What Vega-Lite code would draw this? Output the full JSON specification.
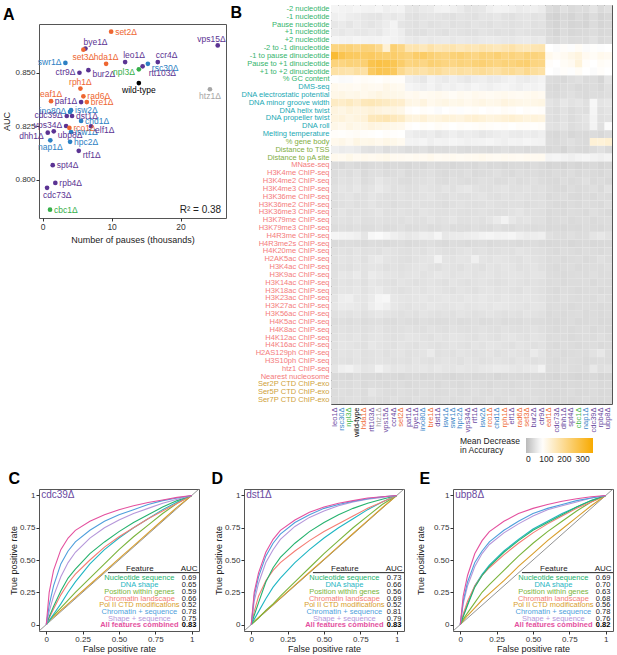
{
"$schema": "https://vega.github.io/schema/vega-lite/v6.json",
"background": "white",
"padding": {"left": 2, "top": 3, "right": 2, "bottom": 0},
"config": {
  "font": "Liberation Sans",
  "view": {"stroke": "#555", "strokeWidth": 1},
  "axis": {"grid": false, "domain": false, "tickColor": "#333", "tickSize": 3, "labelColor": "#333", "labelFontSize": 8.5, "titleFontSize": 9, "titleFontWeight": "normal", "titleColor": "#222", "labelPadding": 1, "titlePadding": 3, "labelOverlap": false, "labelSeparation": 0},
  "axisQuantitative": {"labelOverlap": false},
  "title": {"fontSize": 16, "fontWeight": "bold", "anchor": "start", "frame": "bounds", "color": "#000"}
},
"datasets": {
  "pauses": [
    {"s":"set2Δ","n":9.93,"auc":0.8693,"g":"o"},
    {"s":"bye1Δ","n":6.2,"auc":0.8614,"g":"p"},
    {"s":"set3Δ","n":5.9,"auc":0.8609,"g":"o"},
    {"s":"hda1Δ","n":9.2,"auc":0.8543,"g":"o"},
    {"s":"leo1Δ","n":11.96,"auc":0.8551,"g":"p"},
    {"s":"ccr4Δ","n":16.7,"auc":0.8551,"g":"p"},
    {"s":"rsc30Δ","n":15.26,"auc":0.8543,"g":"b"},
    {"s":"rtt103Δ","n":14.5,"auc":0.8531,"g":"p"},
    {"s":"npl3Δ","n":13.95,"auc":0.8517,"g":"g"},
    {"s":"wild-type","n":13.95,"auc":0.8453,"g":"k"},
    {"s":"vps15Δ","n":25.4,"auc":0.8629,"g":"p"},
    {"s":"htz1Δ","n":24.27,"auc":0.8424,"g":"x"},
    {"s":"swr1Δ","n":3.29,"auc":0.8547,"g":"b"},
    {"s":"ctr9Δ","n":5.33,"auc":0.8501,"g":"p"},
    {"s":"bur2Δ","n":6.63,"auc":0.8513,"g":"p"},
    {"s":"rph1Δ","n":5.47,"auc":0.8427,"g":"o"},
    {"s":"rad6Δ","n":5.9,"auc":0.8391,"g":"o"},
    {"s":"eaf1Δ","n":1.21,"auc":0.8368,"g":"o"},
    {"s":"paf1Δ","n":5.57,"auc":0.8364,"g":"p"},
    {"s":"bre1Δ","n":6.4,"auc":0.8364,"g":"o"},
    {"s":"isw2Δ","n":4.11,"auc":0.8326,"g":"b"},
    {"s":"ino80Δ","n":3.97,"auc":0.8318,"g":"b"},
    {"s":"dst1Δ","n":4.26,"auc":0.8299,"g":"p"},
    {"s":"cdc39Δ","n":3.49,"auc":0.8299,"g":"p"},
    {"s":"chd1Δ","n":5.57,"auc":0.8276,"g":"b"},
    {"s":"vps34Δ","n":3.39,"auc":0.8252,"g":"p"},
    {"s":"rco1Δ","n":3.87,"auc":0.8243,"g":"o"},
    {"s":"elf1Δ","n":7.02,"auc":0.8251,"g":"p"},
    {"s":"dhh1Δ","n":0.73,"auc":0.8221,"g":"p"},
    {"s":"ubp8Δ","n":1.6,"auc":0.8227,"g":"p"},
    {"s":"isw1Δ","n":4.11,"auc":0.8224,"g":"b"},
    {"s":"nap1Δ","n":1.1,"auc":0.8185,"g":"b"},
    {"s":"hpc2Δ","n":3.97,"auc":0.8178,"g":"b"},
    {"s":"rtf1Δ","n":5.23,"auc":0.8136,"g":"p"},
    {"s":"spt4Δ","n":1.45,"auc":0.8069,"g":"p"},
    {"s":"rpb4Δ","n":1.83,"auc":0.7986,"g":"p"},
    {"s":"cdc73Δ","n":0.63,"auc":0.7963,"g":"p"},
    {"s":"cbc1Δ","n":1.06,"auc":0.7861,"g":"g"}
  ],
  "strains": [{"i":1,"s":"leo1"},{"i":2,"s":"rsc30"},{"i":3,"s":"npl3"},{"i":4,"s":"wild-type"},{"i":5,"s":"hda1"},{"i":6,"s":"rtt103"},{"i":7,"s":"htz1"},{"i":8,"s":"vps15"},{"i":9,"s":"ccr4"},{"i":10,"s":"set2"},{"i":11,"s":"paf1"},{"i":12,"s":"bye1"},{"i":13,"s":"ino80"},{"i":14,"s":"bre1"},{"i":15,"s":"dst1"},{"i":16,"s":"isw1"},{"i":17,"s":"swr1"},{"i":18,"s":"hpc2"},{"i":19,"s":"vps34"},{"i":20,"s":"rtf1"},{"i":21,"s":"isw2"},{"i":22,"s":"rco1"},{"i":23,"s":"chd1"},{"i":24,"s":"rph1"},{"i":25,"s":"elf1"},{"i":26,"s":"rad6"},{"i":27,"s":"set3"},{"i":28,"s":"bur2"},{"i":29,"s":"ctr9"},{"i":30,"s":"eaf1"},{"i":31,"s":"cdc73"},{"i":32,"s":"dhh1"},{"i":33,"s":"spt4"},{"i":34,"s":"cbc1"},{"i":35,"s":"nap1"},{"i":36,"s":"cdc39"},{"i":37,"s":"rpb4"},{"i":38,"s":"ubp8"}],
  "heat": [
    {"f":"-2 nucleotide","v":[62,60,58,62,60,58,62,55,58,60,45,42,48,50,58,60,55,50,40,42,45,55,60,58,55,50,52,55,50,30,25,35,28,32,30,40,28,35]},
    {"f":"-1 nucleotide","v":[55,58,52,50,45,42,40,48,45,50,38,35,40,42,40,38,35,40,38,36,42,40,45,38,36,40,42,38,40,22,18,25,20,28,22,30,20,25]},
    {"f":"Pause nucleotide","v":[45,48,42,50,44,40,46,52,60,42,38,36,40,35,38,40,36,38,35,40,38,36,40,38,35,38,40,36,38,25,20,28,22,24,20,30,22,26]},
    {"f":"+1 nucleotide","v":[48,45,50,46,44,48,45,55,58,52,38,36,35,40,38,36,40,38,36,35,40,38,36,38,35,40,38,36,35,28,22,30,24,26,28,32,25,28]},
    {"f":"+2 nucleotide","v":[62,60,58,62,60,58,60,62,58,55,48,45,50,46,48,50,45,48,46,44,48,50,48,46,45,48,50,46,48,32,28,35,30,32,30,38,28,32]},
    {"f":"-2 to -1 dinucleotide","v":[215,220,225,210,225,220,200,120,230,210,160,165,150,170,155,160,165,150,160,155,165,158,150,160,170,155,150,160,165,75,70,80,72,85,70,78,72,75]},
    {"f":"-1 to pause dinucleotide","v":[300,270,255,250,245,250,240,235,240,230,220,240,245,230,220,215,225,230,220,210,225,220,230,215,220,210,225,220,215,95,85,90,100,110,90,85,95,90]},
    {"f":"Pause to +1 dinucleotide","v":[220,215,225,220,230,270,280,275,265,240,215,220,210,230,225,215,210,220,215,225,230,220,215,225,220,230,235,215,210,80,75,85,90,115,80,75,85,80]},
    {"f":"+1 to +2 dinucleotide","v":[175,170,165,180,175,250,270,265,255,200,175,180,170,185,190,175,170,180,175,185,190,180,175,190,195,180,200,185,175,75,70,80,72,85,75,70,80,75]},
    {"f":"% GC content","v":[72,68,70,80,85,82,78,85,82,80,55,50,45,58,52,48,55,50,45,52,55,48,50,55,58,52,50,55,60,30,28,25,32,35,28,30,22,40]},
    {"f":"DMS-seq","v":[95,90,92,88,95,92,90,100,95,92,62,58,55,60,52,58,55,60,56,62,58,55,60,62,58,55,60,58,62,28,25,30,32,26,28,30,25,35]},
    {"f":"DNA electrostatic potential","v":[100,105,98,102,95,100,108,102,100,98,90,95,88,92,95,90,85,92,88,95,90,88,92,95,90,88,92,95,90,30,28,32,35,30,28,32,30,34]},
    {"f":"DNA minor groove width","v":[140,135,145,130,150,155,148,140,135,130,105,100,110,95,100,105,98,102,95,100,105,98,100,110,105,100,98,102,105,40,35,45,38,42,35,65,40,45]},
    {"f":"DNA helix twist","v":[110,105,115,108,112,118,110,105,108,100,80,75,82,78,70,75,80,72,78,82,75,80,78,85,80,75,82,78,80,35,32,38,30,36,33,62,35,40]},
    {"f":"DNA propeller twist","v":[110,115,105,112,118,150,155,160,150,140,115,110,120,108,112,118,115,110,120,125,118,112,115,120,125,118,112,115,110,35,32,38,30,36,40,60,35,38]},
    {"f":"DNA roll","v":[100,95,105,98,102,110,105,100,98,95,80,75,82,78,85,80,76,82,78,80,85,82,78,80,76,82,80,78,82,38,35,40,32,36,38,60,35,70]},
    {"f":"Melting temperature","v":[80,78,82,85,80,78,75,80,78,76,55,50,48,52,45,50,55,48,52,50,45,48,52,55,50,48,52,50,55,28,25,30,24,28,26,30,25,32]},
    {"f":"% gene body","v":[95,100,92,105,98,100,95,102,98,92,60,58,62,55,60,58,62,60,56,58,60,62,58,55,60,58,62,60,58,30,28,32,35,30,28,120,118,125]},
    {"f":"Distance to TSS","v":[55,50,52,48,38,35,40,32,38,35,30,32,35,28,32,30,34,30,28,32,30,28,32,35,30,32,28,30,32,25,28,22,30,26,25,30,35,28]},
    {"f":"Distance to pA site","v":[95,92,98,90,95,92,95,98,92,90,88,92,90,95,88,90,92,88,90,92,95,90,88,92,90,88,92,90,92,60,62,58,55,60,62,58,55,60]},
    {"f":"MNase-seq","v":[28,25,30,26,24,28,30,25,28,26,24,28,25,30,26,28,24,26,28,25,30,26,28,24,26,28,25,30,26,22,24,20,25,22,24,26,22,25]},
    {"f":"H3K4me ChIP-seq","v":[30,35,32,38,28,34,36,30,32,35,28,30,33,36,30,28,32,30,34,28,30,32,35,30,28,33,30,32,28,26,30,28,32,26,30,28,25,30]},
    {"f":"H3K4me2 ChIP-seq","v":[32,38,35,40,30,36,45,38,35,32,30,34,36,38,32,30,35,33,30,32,36,34,30,32,35,30,33,36,30,28,26,32,28,30,35,28,30,26]},
    {"f":"H3K4me3 ChIP-seq","v":[36,42,38,45,35,40,48,42,36,38,34,36,40,38,35,40,36,42,45,38,36,34,38,40,36,35,38,34,36,30,28,26,32,28,30,34,28,38]},
    {"f":"H3K36me ChIP-seq","v":[34,38,40,36,35,42,38,36,34,38,36,35,38,40,36,34,38,36,35,38,40,36,34,38,36,38,35,34,36,28,30,32,28,26,30,28,32,30]},
    {"f":"H3K36me2 ChIP-seq","v":[32,36,38,34,35,40,36,35,32,36,34,38,35,36,34,32,36,38,35,34,36,38,35,34,36,35,32,34,36,30,28,26,30,28,32,30,28,34]},
    {"f":"H3K36me3 ChIP-seq","v":[34,40,36,38,35,38,42,36,35,38,36,34,40,38,36,35,38,36,34,36,38,35,34,36,38,42,36,35,34,28,30,28,32,30,28,34,30,28]},
    {"f":"H3K79me ChIP-seq","v":[35,38,36,40,34,36,38,35,36,34,38,36,35,40,36,38,42,35,36,38,36,40,48,58,45,38,40,36,35,28,30,32,28,30,32,28,30,32]},
    {"f":"H3K79me3 ChIP-seq","v":[30,34,32,35,30,32,36,30,32,35,30,32,34,30,32,35,30,32,30,34,32,30,35,32,30,34,32,30,32,26,28,25,28,26,30,28,26,30]},
    {"f":"H4R3me ChIP-seq","v":[62,60,58,55,42,65,68,62,55,50,45,48,55,52,62,45,48,50,52,55,60,62,58,60,62,55,50,52,55,35,32,30,34,30,32,40,45,38]},
    {"f":"H4R3me2s ChIP-seq","v":[28,30,32,30,28,32,30,28,30,32,28,30,32,34,30,28,32,30,28,30,32,28,30,32,30,28,30,32,28,25,26,28,24,26,28,25,26,28]},
    {"f":"H4K20me ChIP-seq","v":[34,38,36,40,35,38,36,40,38,36,34,38,36,40,38,36,34,38,40,36,38,34,36,38,36,40,38,36,34,30,28,32,30,28,32,30,28,32]},
    {"f":"H2AK5ac ChIP-seq","v":[36,40,38,42,36,44,48,40,38,36,34,38,40,42,58,40,38,42,40,55,40,38,42,40,38,36,40,38,36,30,32,28,30,32,28,30,35,32]},
    {"f":"H3K4ac ChIP-seq","v":[34,38,36,40,38,42,40,36,38,36,38,40,42,38,36,40,38,36,40,38,36,40,38,42,40,36,38,40,36,30,28,30,32,28,30,32,30,34]},
    {"f":"H3K9ac ChIP-seq","v":[36,45,42,48,38,50,46,42,40,38,40,42,38,40,44,42,38,40,42,38,40,42,38,40,42,40,38,42,40,32,30,28,30,32,30,34,30,32]},
    {"f":"H3K14ac ChIP-seq","v":[34,40,38,42,36,44,40,38,36,40,38,36,38,40,38,36,40,38,36,38,40,38,36,38,40,38,36,38,36,30,32,28,30,30,32,28,32,30]},
    {"f":"H3K18ac ChIP-seq","v":[36,42,40,44,38,45,48,40,38,36,38,40,38,42,40,38,36,40,38,36,40,42,38,40,38,36,40,38,36,30,28,32,30,28,30,32,28,30]},
    {"f":"H3K23ac ChIP-seq","v":[40,52,55,45,42,50,62,65,45,42,40,42,44,40,42,44,42,40,44,42,46,42,40,44,42,40,42,40,38,32,30,34,32,30,32,30,34,32]},
    {"f":"H3K27ac ChIP-seq","v":[42,50,48,46,40,52,60,55,44,40,38,42,40,44,42,40,42,44,40,42,44,42,46,44,42,40,38,42,40,30,32,30,28,30,32,30,28,30]},
    {"f":"H3K56ac ChIP-seq","v":[36,40,38,42,36,40,44,40,38,36,38,36,40,38,36,38,36,40,38,36,38,40,38,36,38,36,40,38,36,28,30,28,30,32,28,30,28,30]},
    {"f":"H4K5ac ChIP-seq","v":[30,34,32,36,30,34,36,32,30,34,32,30,34,32,30,32,34,30,32,34,30,32,34,30,32,30,34,32,30,28,26,28,30,26,28,30,26,28]},
    {"f":"H4K8ac ChIP-seq","v":[34,38,36,38,34,38,40,36,34,36,38,36,34,38,36,34,38,36,34,36,38,36,34,38,36,34,36,38,34,30,28,30,28,30,32,28,30,28]},
    {"f":"H4K12ac ChIP-seq","v":[36,40,38,42,36,40,42,38,36,38,42,40,38,36,40,38,42,40,38,36,40,38,36,40,42,38,36,40,38,30,32,30,28,30,32,30,34,30]},
    {"f":"H4K16ac ChIP-seq","v":[36,42,40,38,36,44,40,38,36,40,38,36,40,38,36,38,40,38,36,40,38,42,40,38,36,40,38,36,38,30,28,32,30,28,30,32,28,30]},
    {"f":"H2AS129ph ChIP-seq","v":[34,40,38,42,36,38,40,36,38,40,36,38,40,48,36,38,36,40,38,36,38,40,36,38,40,38,36,48,40,30,32,28,30,32,30,38,44,32]},
    {"f":"H3S10ph ChIP-seq","v":[34,38,36,40,36,38,40,38,36,38,36,40,38,36,38,40,38,36,40,38,36,38,40,38,36,40,38,36,38,30,28,30,32,30,28,30,32,30]},
    {"f":"htz1 ChIP-seq","v":[40,55,58,50,42,45,58,48,42,44,40,42,44,40,46,42,40,44,42,40,44,46,50,48,44,42,46,48,58,32,30,34,32,30,32,46,34,38]},
    {"f":"Nearest nucleosome","v":[26,28,25,30,26,28,25,28,26,24,26,28,25,26,28,26,24,26,28,25,26,28,24,26,28,26,25,28,26,24,22,25,24,22,24,26,22,24]},
    {"f":"Ser2P CTD ChIP-exo","v":[28,32,30,34,28,32,30,28,30,32,28,30,32,30,28,32,30,28,30,32,30,28,32,30,28,30,32,30,28,26,28,25,28,26,28,30,26,28]},
    {"f":"Ser5P CTD ChIP-exo","v":[30,34,32,36,30,42,36,32,30,34,32,30,34,32,30,32,34,30,32,34,32,30,34,32,30,32,34,32,30,28,26,28,30,26,28,30,26,28]},
    {"f":"Ser7P CTD ChIP-exo","v":[30,32,34,36,30,34,32,30,34,32,30,34,32,30,32,34,30,32,34,30,32,34,30,32,34,30,32,34,30,28,26,28,26,28,30,28,26,28]}
  ],
  "roc": [
    {"p":"C","x":0,"all":0,"cs":0,"ss":0,"nuc":0,"chr":0,"shp":0,"pos":0,"ctd":0},
    {"p":"C","x":0.02,"all":0.25,"cs":0.15,"ss":0.10,"nuc":0.06,"chr":0.05,"shp":0.03,"pos":0.03,"ctd":0.03},
    {"p":"C","x":0.05,"all":0.42,"cs":0.30,"ss":0.22,"nuc":0.14,"chr":0.12,"shp":0.08,"pos":0.07,"ctd":0.06},
    {"p":"C","x":0.10,"all":0.58,"cs":0.47,"ss":0.37,"nuc":0.26,"chr":0.23,"shp":0.16,"pos":0.13,"ctd":0.11},
    {"p":"C","x":0.15,"all":0.67,"cs":0.57,"ss":0.48,"nuc":0.36,"chr":0.32,"shp":0.25,"pos":0.19,"ctd":0.16},
    {"p":"C","x":0.20,"all":0.73,"cs":0.64,"ss":0.56,"nuc":0.43,"chr":0.39,"shp":0.33,"pos":0.25,"ctd":0.21},
    {"p":"C","x":0.30,"all":0.80,"cs":0.73,"ss":0.67,"nuc":0.55,"chr":0.50,"shp":0.47,"pos":0.36,"ctd":0.31},
    {"p":"C","x":0.40,"all":0.85,"cs":0.80,"ss":0.75,"nuc":0.64,"chr":0.60,"shp":0.58,"pos":0.47,"ctd":0.41},
    {"p":"C","x":0.50,"all":0.89,"cs":0.85,"ss":0.81,"nuc":0.72,"chr":0.68,"shp":0.67,"pos":0.58,"ctd":0.51},
    {"p":"C","x":0.60,"all":0.92,"cs":0.89,"ss":0.86,"nuc":0.79,"chr":0.75,"shp":0.75,"pos":0.68,"ctd":0.61},
    {"p":"C","x":0.70,"all":0.945,"cs":0.93,"ss":0.90,"nuc":0.85,"chr":0.82,"shp":0.82,"pos":0.77,"ctd":0.71},
    {"p":"C","x":0.80,"all":0.965,"cs":0.96,"ss":0.94,"nuc":0.91,"chr":0.88,"shp":0.89,"pos":0.86,"ctd":0.81},
    {"p":"C","x":0.90,"all":0.985,"cs":0.98,"ss":0.97,"nuc":0.96,"chr":0.94,"shp":0.95,"pos":0.94,"ctd":0.91},
    {"p":"C","x":1,"all":1,"cs":1,"ss":1,"nuc":1,"chr":1,"shp":1,"pos":1,"ctd":1},
    {"p":"D","x":0,"all":0,"cs":0,"ss":0,"nuc":0,"chr":0,"shp":0,"pos":0,"ctd":0},
    {"p":"D","x":0.02,"all":0.25,"cs":0.22,"ss":0.18,"nuc":0.07,"chr":0.10,"shp":0.04,"pos":0.02,"ctd":0.025},
    {"p":"D","x":0.05,"all":0.40,"cs":0.37,"ss":0.32,"nuc":0.17,"chr":0.22,"shp":0.10,"pos":0.05,"ctd":0.055},
    {"p":"D","x":0.10,"all":0.56,"cs":0.53,"ss":0.48,"nuc":0.33,"chr":0.34,"shp":0.20,"pos":0.11,"ctd":0.105},
    {"p":"D","x":0.15,"all":0.66,"cs":0.63,"ss":0.58,"nuc":0.44,"chr":0.42,"shp":0.29,"pos":0.16,"ctd":0.155},
    {"p":"D","x":0.20,"all":0.73,"cs":0.70,"ss":0.66,"nuc":0.52,"chr":0.48,"shp":0.36,"pos":0.22,"ctd":0.205},
    {"p":"D","x":0.30,"all":0.81,"cs":0.79,"ss":0.76,"nuc":0.63,"chr":0.57,"shp":0.48,"pos":0.33,"ctd":0.305},
    {"p":"D","x":0.40,"all":0.87,"cs":0.85,"ss":0.83,"nuc":0.72,"chr":0.65,"shp":0.58,"pos":0.44,"ctd":0.405},
    {"p":"D","x":0.50,"all":0.91,"cs":0.90,"ss":0.88,"nuc":0.79,"chr":0.72,"shp":0.67,"pos":0.55,"ctd":0.505},
    {"p":"D","x":0.60,"all":0.94,"cs":0.93,"ss":0.92,"nuc":0.85,"chr":0.78,"shp":0.75,"pos":0.65,"ctd":0.605},
    {"p":"D","x":0.70,"all":0.96,"cs":0.955,"ss":0.95,"nuc":0.90,"chr":0.84,"shp":0.82,"pos":0.75,"ctd":0.705},
    {"p":"D","x":0.80,"all":0.98,"cs":0.975,"ss":0.97,"nuc":0.94,"chr":0.90,"shp":0.89,"pos":0.84,"ctd":0.805},
    {"p":"D","x":0.90,"all":0.99,"cs":0.99,"ss":0.985,"nuc":0.97,"chr":0.95,"shp":0.95,"pos":0.93,"ctd":0.905},
    {"p":"D","x":1,"all":1,"cs":1,"ss":1,"nuc":1,"chr":1,"shp":1,"pos":1,"ctd":1},
    {"p":"E","x":0,"all":0,"cs":0,"ss":0,"nuc":0,"chr":0,"shp":0,"pos":0,"ctd":0},
    {"p":"E","x":0.02,"all":0.22,"cs":0.18,"ss":0.16,"nuc":0.06,"chr":0.08,"shp":0.07,"pos":0.04,"ctd":0.03},
    {"p":"E","x":0.05,"all":0.38,"cs":0.33,"ss":0.30,"nuc":0.15,"chr":0.18,"shp":0.16,"pos":0.09,"ctd":0.07},
    {"p":"E","x":0.10,"all":0.55,"cs":0.48,"ss":0.45,"nuc":0.29,"chr":0.30,"shp":0.30,"pos":0.17,"ctd":0.13},
    {"p":"E","x":0.15,"all":0.65,"cs":0.57,"ss":0.55,"nuc":0.38,"chr":0.38,"shp":0.39,"pos":0.25,"ctd":0.19},
    {"p":"E","x":0.20,"all":0.72,"cs":0.64,"ss":0.62,"nuc":0.45,"chr":0.44,"shp":0.46,"pos":0.31,"ctd":0.24},
    {"p":"E","x":0.30,"all":0.80,"cs":0.73,"ss":0.71,"nuc":0.56,"chr":0.54,"shp":0.57,"pos":0.42,"ctd":0.34},
    {"p":"E","x":0.40,"all":0.86,"cs":0.80,"ss":0.78,"nuc":0.65,"chr":0.63,"shp":0.66,"pos":0.53,"ctd":0.45},
    {"p":"E","x":0.50,"all":0.90,"cs":0.86,"ss":0.84,"nuc":0.73,"chr":0.71,"shp":0.74,"pos":0.63,"ctd":0.55},
    {"p":"E","x":0.60,"all":0.93,"cs":0.90,"ss":0.89,"nuc":0.79,"chr":0.78,"shp":0.80,"pos":0.72,"ctd":0.65},
    {"p":"E","x":0.70,"all":0.955,"cs":0.93,"ss":0.92,"nuc":0.85,"chr":0.84,"shp":0.86,"pos":0.80,"ctd":0.74},
    {"p":"E","x":0.80,"all":0.975,"cs":0.96,"ss":0.95,"nuc":0.91,"chr":0.90,"shp":0.91,"pos":0.88,"ctd":0.83},
    {"p":"E","x":0.90,"all":0.99,"cs":0.98,"ss":0.98,"nuc":0.96,"chr":0.95,"shp":0.96,"pos":0.95,"ctd":0.92},
    {"p":"E","x":1,"all":1,"cs":1,"ss":1,"nuc":1,"chr":1,"shp":1,"pos":1,"ctd":1}
  ],
  "tab": [
    {"p":"C","f":"nuc","n":"Nucleotide sequence","a":"0.69"},
    {"p":"C","f":"shp","n":"DNA shape","a":"0.65"},
    {"p":"C","f":"pos","n":"Position within genes","a":"0.59"},
    {"p":"C","f":"chr","n":"Chromatin landscape","a":"0.66"},
    {"p":"C","f":"ctd","n":"Pol II CTD modifications","a":"0.52"},
    {"p":"C","f":"cs","n":"Chromatin + sequence","a":"0.78"},
    {"p":"C","f":"ss","n":"Shape + sequence","a":"0.75"},
    {"p":"C","f":"all","n":"All features combined","a":"0.83"},
    {"p":"D","f":"nuc","n":"Nucleotide sequence","a":"0.73"},
    {"p":"D","f":"shp","n":"DNA shape","a":"0.66"},
    {"p":"D","f":"pos","n":"Position within genes","a":"0.56"},
    {"p":"D","f":"chr","n":"Chromatin landscape","a":"0.69"},
    {"p":"D","f":"ctd","n":"Pol II CTD modifications","a":"0.52"},
    {"p":"D","f":"cs","n":"Chromatin + sequence","a":"0.81"},
    {"p":"D","f":"ss","n":"Shape + sequence","a":"0.79"},
    {"p":"D","f":"all","n":"All features combined","a":"0.83"},
    {"p":"E","f":"nuc","n":"Nucleotide sequence","a":"0.69"},
    {"p":"E","f":"shp","n":"DNA shape","a":"0.70"},
    {"p":"E","f":"pos","n":"Position within genes","a":"0.63"},
    {"p":"E","f":"chr","n":"Chromatin landscape","a":"0.68"},
    {"p":"E","f":"ctd","n":"Pol II CTD modifications","a":"0.56"},
    {"p":"E","f":"cs","n":"Chromatin + sequence","a":"0.78"},
    {"p":"E","f":"ss","n":"Shape + sequence","a":"0.76"},
    {"p":"E","f":"all","n":"All features combined","a":"0.82"}
  ]
},
"spacing": 5,
"vconcat": [
 {"hconcat": [
  {"vconcat": [
  {"width": 187, "height": 1, "view": {"stroke": null}, "mark": {"type": "rule", "strokeOpacity": 0, "opacity": 0}, "encoding": {}},
  {
   "title": {"text": "A", "offset": 1, "dx": 0},
   "width": 187, "height": 194,
   "data": {"name": "pauses"},
   "layer": [
    {
     "encoding": {
       "x": {"field": "n", "type": "quantitative", "scale": {"domain": [-0.54, 26.6], "nice": false, "zero": false}, "axis": {"values": [0, 10, 20], "title": "Number of pauses (thousands)", "titlePadding": 5}},
       "y": {"field": "auc", "type": "quantitative", "scale": {"domain": [0.7822, 0.8729], "nice": false, "zero": false}, "axis": {"values": [0.8, 0.825, 0.85], "format": ".3f", "title": "AUC", "titlePadding": 3, "labelFontSize": 8}},
       "color": {"field": "g", "type": "nominal", "scale": {"domain": ["p","o","b","g","k","x"], "range": ["#5b3393","#ee6631","#2c80c3","#36b04a","#000000","#a6a6a6"]}, "legend": null}
     },
     "layer": [
       {"mark": {"type": "circle", "size": 22, "opacity": 1}},
       {"transform": [{"filter": {"field": "s", "oneOf": ["set2Δ","rad6Δ","bre1Δ","isw2Δ","dst1Δ","chd1Δ","rco1Δ","isw1Δ","hpc2Δ","spt4Δ","rpb4Δ","cbc1Δ"]}}],
        "mark": {"type": "text", "align": "left", "dx": 4, "dy": 0, "fontSize": 8.5}, "encoding": {"text": {"field": "s"}}},
       {"transform": [{"filter": {"field": "s", "oneOf": ["bur2Δ","ubp8Δ","rsc30Δ","elf1Δ","rtf1Δ"]}}],
        "mark": {"type": "text", "align": "left", "dx": 4, "dy": 4, "fontSize": 8.5}, "encoding": {"text": {"field": "s"}}},
       {"transform": [{"filter": {"field": "s", "oneOf": ["rtt103Δ"]}}],
        "mark": {"type": "text", "align": "left", "dx": 6, "dy": 7, "fontSize": 8.5}, "encoding": {"text": {"field": "s"}}},
       {"transform": [{"filter": {"field": "s", "oneOf": ["swr1Δ","ctr9Δ","paf1Δ","ino80Δ","cdc39Δ","vps34Δ"]}}],
        "mark": {"type": "text", "align": "right", "dx": -4, "dy": -1, "fontSize": 8.5}, "encoding": {"text": {"field": "s"}}},
       {"transform": [{"filter": {"field": "s", "oneOf": ["npl3Δ","dhh1Δ"]}}],
        "mark": {"type": "text", "align": "right", "dx": -4, "dy": 3, "fontSize": 8.5}, "encoding": {"text": {"field": "s"}}},
       {"transform": [{"filter": {"field": "s", "oneOf": ["hda1Δ","rph1Δ","eaf1Δ"]}}],
        "mark": {"type": "text", "align": "center", "dy": -7, "fontSize": 8.5}, "encoding": {"text": {"field": "s"}}},
       {"transform": [{"filter": {"field": "s", "oneOf": ["bye1Δ","leo1Δ","ccr4Δ"]}}],
        "mark": {"type": "text", "align": "left", "dx": -2, "dy": -7, "fontSize": 8.5}, "encoding": {"text": {"field": "s"}}},
       {"transform": [{"filter": {"field": "s", "oneOf": ["vps15Δ"]}}],
        "mark": {"type": "text", "align": "right", "dx": 8, "dy": -6, "fontSize": 8.5}, "encoding": {"text": {"field": "s"}}},
       {"transform": [{"filter": {"field": "s", "oneOf": ["set3Δ","wild-type","htz1Δ","nap1Δ"]}}],
        "mark": {"type": "text", "align": "center", "dy": 7, "fontSize": 8.5}, "encoding": {"text": {"field": "s"}}},
       {"transform": [{"filter": {"field": "s", "oneOf": ["cdc73Δ"]}}],
        "mark": {"type": "text", "align": "left", "dx": -4, "dy": 7, "fontSize": 8.5}, "encoding": {"text": {"field": "s"}}}
     ]
    },
    {"data": {"values": [{"t": "R² = 0.38"}]}, "mark": {"type": "text", "align": "right", "fontSize": 10, "color": "#222222"},
     "encoding": {"x": {"datum": 25.9, "type": "quantitative"}, "y": {"datum": 0.786, "type": "quantitative"}, "text": {"field": "t", "type": "nominal"}}}
   ]
  }], "spacing": 0},
  {
   "width": 281, "height": 399,
   "data": {"name": "heat"},
   "transform": [
     {"window": [{"op": "row_number", "as": "ri"}]},
     {"flatten": ["v"]},
     {"window": [{"op": "row_number", "as": "ci"}], "groupby": ["ri"]},
     {"lookup": "ci", "from": {"data": {"name": "strains"}, "key": "i", "fields": ["s"]}}
   ],
   "mark": {"type": "rect"},
   "encoding": {
     "x": {"field": "s", "type": "nominal", "sort": {"field": "ci", "op": "min"}, "scale": {"padding": 0},
       "axis": {"title": null, "orient": "bottom", "labelAngle": -90, "labelFontSize": 7.5, "ticks": false, "labelPadding": 3,
         "labelExpr": "datum.value == 'wild-type' ? datum.value : datum.value + 'Δ'",
         "labelColor": {"condition": [
           {"test": "indexof(['hda1','set2','bre1','rco1','rph1','rad6','set3','eaf1'], datum.value) >= 0", "value": "#ef6a35"},
           {"test": "indexof(['rsc30','ino80','isw1','swr1','hpc2','isw2','chd1','nap1'], datum.value) >= 0", "value": "#3a86c8"},
           {"test": "indexof(['npl3','cbc1'], datum.value) >= 0", "value": "#3db54a"},
           {"test": "datum.value == 'htz1'", "value": "#a8a8a8"},
           {"test": "datum.value == 'wild-type'", "value": "#000000"}
         ], "value": "#6b4a9f"}}},
     "y": {"field": "f", "type": "nominal", "sort": {"field": "ri", "op": "min"}, "scale": {"padding": 0},
       "axis": {"ticks": false, "labelFontSize": 7.5, "labelPadding": 2,
         "title": "B", "titleX": -101, "titleY": -1, "titleAngle": 0, "titleAlign": "left", "titleBaseline": "top",
         "titleFontSize": 16, "titleFontWeight": "bold", "titleColor": "#000",
         "labelColor": {"condition": [
           {"test": "test(regexp('CTD'), datum.value)", "value": "#cfa23a"},
           {"test": "test(regexp('gene body|Distance'), datum.value)", "value": "#7fae3e"},
           {"test": "test(regexp('DMS|DNA |Melting'), datum.value)", "value": "#1ca9b4"},
           {"test": "test(regexp('nucleotide|GC'), datum.value)", "value": "#33b46c"}
         ], "value": "#f47b7b"}}},
     "color": {"field": "v", "type": "quantitative",
       "scale": {"domain": [-13, 75, 358], "range": ["#bababa", "#ffffff", "#f8aa00"], "interpolate": "rgb"},
       "legend": {"orient": "none", "legendX": 129, "legendY": 433, "direction": "horizontal",
         "title": ["Mean Decrease", "in Accuracy"], "titleOrient": "left", "titleAlign": "left", "titleLineHeight": 9,
         "titleFontSize": 8.5, "titleFontWeight": "normal", "titleColor": "#222", "titlePadding": 5,
         "gradientLength": 67, "gradientThickness": 15, "values": [0, 100, 200, 300],
         "labelFontSize": 8.5, "labelColor": "#222"}}
   }
  }
 ], "spacing": 2},
 {"hconcat": [
  {
   "title": {"text": "C", "offset": 2, "dx": -1},
   "width": 160, "height": 142,
   "encoding": {
     "x": {"type": "quantitative", "scale": {"domain": [-0.05, 1.05], "nice": false}, "axis": {"values": [0,0.25,0.5,0.75,1], "labelOverlap": false, "labelFontSize": 8, "labelExpr": "datum.value == 0 ? '0' : datum.value == 1 ? '1' : format(datum.value, '.2f')", "title": "False positive rate", "titlePadding": 1}},
     "y": {"type": "quantitative", "scale": {"domain": [-0.05, 1.05], "nice": false}, "axis": {"values": [0,0.25,0.5,0.75,1], "labelOverlap": false, "labelFontSize": 8, "labelExpr": "datum.value == 0 ? '0' : datum.value == 1 ? '1' : format(datum.value, '.2f')", "title": "True positive rate", "titlePadding": 1}}
   },
   "layer": [
     {"data": {"values": [{}]}, "mark": {"type": "rule", "color": "#777", "strokeWidth": 0.8},
      "encoding": {"x": {"datum": -0.05}, "y": {"datum": -0.05}, "x2": {"datum": 1.05}, "y2": {"datum": 1.05}}},
     {"data": {"name": "roc"},
      "transform": [{"filter": "datum.p == 'C'"}, {"fold": ["ctd","pos","shp","chr","nuc","ss","cs","all"], "as": ["f","tpr"]}],
      "mark": {"type": "line", "strokeWidth": 1.1},
      "encoding": {
        "x": {"field": "x", "type": "quantitative"},
        "y": {"field": "tpr", "type": "quantitative"},
        "color": {"field": "f", "type": "nominal", "scale": {"domain": ["nuc","shp","pos","chr","ctd","cs","ss","all"], "range": ["#25b26e","#1fb6c3","#7ab43c","#f47d74","#d89e2c","#4f9fdc","#b597da","#e4519f"]}, "legend": null}
      }},
     {"data": {"values": [{}]}, "mark": {"type": "text", "text": "Feature", "fontSize": 8, "color": "#222"}, "encoding": {"x": {"datum": 0.643}, "y": {"datum": 0.432}}},
     {"data": {"values": [{}]}, "mark": {"type": "text", "text": "AUC", "fontSize": 8, "color": "#222"}, "encoding": {"x": {"datum": 0.982}, "y": {"datum": 0.432}}},
     {"data": {"values": [{}]}, "mark": {"type": "rule", "color": "#222", "strokeWidth": 1}, "encoding": {"x": {"datum": 0.424}, "x2": {"datum": 1.05}, "y": {"datum": 0.402}}},
     {"data": {"name": "tab"},
      "transform": [{"filter": "datum.p == 'C'"}, {"window": [{"op": "row_number", "as": "k"}]}, {"calculate": "0.357 - (datum.k - 1) * 0.0518", "as": "ty"}, {"filter": "datum.f != 'all'"}],
      "mark": {"type": "text", "fontSize": 7.5, "align": "center", "baseline": "middle"},
      "encoding": {"x": {"datum": 0.64}, "y": {"field": "ty", "type": "quantitative"}, "text": {"field": "n"}, "color": {"field": "f", "type": "nominal", "legend": null}}},
     {"data": {"name": "tab"},
      "transform": [{"filter": "datum.p == 'C'"}, {"window": [{"op": "row_number", "as": "k"}]}, {"calculate": "0.357 - (datum.k - 1) * 0.0518", "as": "ty"}, {"filter": "datum.f == 'all'"}],
      "mark": {"type": "text", "fontSize": 7.5, "fontWeight": "bold", "align": "center", "baseline": "middle"},
      "encoding": {"x": {"datum": 0.64}, "y": {"field": "ty", "type": "quantitative"}, "text": {"field": "n"}, "color": {"field": "f", "type": "nominal", "legend": null}}},
     {"data": {"name": "tab"},
      "transform": [{"filter": "datum.p == 'C'"}, {"window": [{"op": "row_number", "as": "k"}]}, {"calculate": "0.357 - (datum.k - 1) * 0.0518", "as": "ty"}, {"filter": "datum.f != 'all'"}],
      "mark": {"type": "text", "fontSize": 7.5, "align": "center", "baseline": "middle", "color": "#222"},
      "encoding": {"x": {"datum": 0.982}, "y": {"field": "ty", "type": "quantitative"}, "text": {"field": "a"}}},
     {"data": {"name": "tab"},
      "transform": [{"filter": "datum.p == 'C'"}, {"window": [{"op": "row_number", "as": "k"}]}, {"calculate": "0.357 - (datum.k - 1) * 0.0518", "as": "ty"}, {"filter": "datum.f == 'all'"}],
      "mark": {"type": "text", "fontSize": 7.5, "fontWeight": "bold", "align": "center", "baseline": "middle", "color": "#000"},
      "encoding": {"x": {"datum": 0.982}, "y": {"field": "ty", "type": "quantitative"}, "text": {"field": "a"}}},
     {"data": {"values": [{}]}, "mark": {"type": "text", "text": "cdc39Δ", "align": "left", "fontSize": 10, "color": "#6b4a9f"}, "encoding": {"x": {"datum": -0.035}, "y": {"datum": 1.0}}}
   ]
  },
  {
   "title": {"text": "D", "offset": 2, "dx": -3},
   "width": 160, "height": 142,
   "encoding": {
     "x": {"type": "quantitative", "scale": {"domain": [-0.05, 1.05], "nice": false}, "axis": {"values": [0,0.25,0.5,0.75,1], "labelOverlap": false, "labelFontSize": 8, "labelExpr": "datum.value == 0 ? '0' : datum.value == 1 ? '1' : format(datum.value, '.2f')", "title": "False positive rate", "titlePadding": 1}},
     "y": {"type": "quantitative", "scale": {"domain": [-0.05, 1.05], "nice": false}, "axis": {"values": [0,0.25,0.5,0.75,1], "labelOverlap": false, "labelFontSize": 8, "labelExpr": "datum.value == 0 ? '0' : datum.value == 1 ? '1' : format(datum.value, '.2f')", "title": "True positive rate", "titlePadding": 1}}
   },
   "layer": [
     {"data": {"values": [{}]}, "mark": {"type": "rule", "color": "#777", "strokeWidth": 0.8},
      "encoding": {"x": {"datum": -0.05}, "y": {"datum": -0.05}, "x2": {"datum": 1.05}, "y2": {"datum": 1.05}}},
     {"data": {"name": "roc"},
      "transform": [{"filter": "datum.p == 'D'"}, {"fold": ["ctd","pos","shp","chr","nuc","ss","cs","all"], "as": ["f","tpr"]}],
      "mark": {"type": "line", "strokeWidth": 1.1},
      "encoding": {
        "x": {"field": "x", "type": "quantitative"},
        "y": {"field": "tpr", "type": "quantitative"},
        "color": {"field": "f", "type": "nominal", "scale": {"domain": ["nuc","shp","pos","chr","ctd","cs","ss","all"], "range": ["#25b26e","#1fb6c3","#7ab43c","#f47d74","#d89e2c","#4f9fdc","#b597da","#e4519f"]}, "legend": null}
      }},
     {"data": {"values": [{}]}, "mark": {"type": "text", "text": "Feature", "fontSize": 8, "color": "#222"}, "encoding": {"x": {"datum": 0.643}, "y": {"datum": 0.432}}},
     {"data": {"values": [{}]}, "mark": {"type": "text", "text": "AUC", "fontSize": 8, "color": "#222"}, "encoding": {"x": {"datum": 0.982}, "y": {"datum": 0.432}}},
     {"data": {"values": [{}]}, "mark": {"type": "rule", "color": "#222", "strokeWidth": 1}, "encoding": {"x": {"datum": 0.424}, "x2": {"datum": 1.05}, "y": {"datum": 0.402}}},
     {"data": {"name": "tab"},
      "transform": [{"filter": "datum.p == 'D'"}, {"window": [{"op": "row_number", "as": "k"}]}, {"calculate": "0.357 - (datum.k - 1) * 0.0518", "as": "ty"}, {"filter": "datum.f != 'all'"}],
      "mark": {"type": "text", "fontSize": 7.5, "align": "center", "baseline": "middle"},
      "encoding": {"x": {"datum": 0.64}, "y": {"field": "ty", "type": "quantitative"}, "text": {"field": "n"}, "color": {"field": "f", "type": "nominal", "legend": null}}},
     {"data": {"name": "tab"},
      "transform": [{"filter": "datum.p == 'D'"}, {"window": [{"op": "row_number", "as": "k"}]}, {"calculate": "0.357 - (datum.k - 1) * 0.0518", "as": "ty"}, {"filter": "datum.f == 'all'"}],
      "mark": {"type": "text", "fontSize": 7.5, "fontWeight": "bold", "align": "center", "baseline": "middle"},
      "encoding": {"x": {"datum": 0.64}, "y": {"field": "ty", "type": "quantitative"}, "text": {"field": "n"}, "color": {"field": "f", "type": "nominal", "legend": null}}},
     {"data": {"name": "tab"},
      "transform": [{"filter": "datum.p == 'D'"}, {"window": [{"op": "row_number", "as": "k"}]}, {"calculate": "0.357 - (datum.k - 1) * 0.0518", "as": "ty"}, {"filter": "datum.f != 'all'"}],
      "mark": {"type": "text", "fontSize": 7.5, "align": "center", "baseline": "middle", "color": "#222"},
      "encoding": {"x": {"datum": 0.982}, "y": {"field": "ty", "type": "quantitative"}, "text": {"field": "a"}}},
     {"data": {"name": "tab"},
      "transform": [{"filter": "datum.p == 'D'"}, {"window": [{"op": "row_number", "as": "k"}]}, {"calculate": "0.357 - (datum.k - 1) * 0.0518", "as": "ty"}, {"filter": "datum.f == 'all'"}],
      "mark": {"type": "text", "fontSize": 7.5, "fontWeight": "bold", "align": "center", "baseline": "middle", "color": "#000"},
      "encoding": {"x": {"datum": 0.982}, "y": {"field": "ty", "type": "quantitative"}, "text": {"field": "a"}}},
     {"data": {"values": [{}]}, "mark": {"type": "text", "text": "dst1Δ", "align": "left", "fontSize": 10, "color": "#6b4a9f"}, "encoding": {"x": {"datum": -0.035}, "y": {"datum": 1.0}}}
   ]
  },
  {
   "title": {"text": "E", "offset": 2, "dx": 3},
   "width": 160, "height": 142,
   "encoding": {
     "x": {"type": "quantitative", "scale": {"domain": [-0.05, 1.05], "nice": false}, "axis": {"values": [0,0.25,0.5,0.75,1], "labelOverlap": false, "labelFontSize": 8, "labelExpr": "datum.value == 0 ? '0' : datum.value == 1 ? '1' : format(datum.value, '.2f')", "title": "False positive rate", "titlePadding": 1}},
     "y": {"type": "quantitative", "scale": {"domain": [-0.05, 1.05], "nice": false}, "axis": {"values": [0,0.25,0.5,0.75,1], "labelOverlap": false, "labelFontSize": 8, "labelExpr": "datum.value == 0 ? '0' : datum.value == 1 ? '1' : format(datum.value, '.2f')", "title": "True positive rate", "titlePadding": 8}}
   },
   "layer": [
     {"data": {"values": [{}]}, "mark": {"type": "rule", "color": "#777", "strokeWidth": 0.8},
      "encoding": {"x": {"datum": -0.05}, "y": {"datum": -0.05}, "x2": {"datum": 1.05}, "y2": {"datum": 1.05}}},
     {"data": {"name": "roc"},
      "transform": [{"filter": "datum.p == 'E'"}, {"fold": ["ctd","pos","shp","chr","nuc","ss","cs","all"], "as": ["f","tpr"]}],
      "mark": {"type": "line", "strokeWidth": 1.1},
      "encoding": {
        "x": {"field": "x", "type": "quantitative"},
        "y": {"field": "tpr", "type": "quantitative"},
        "color": {"field": "f", "type": "nominal", "scale": {"domain": ["nuc","shp","pos","chr","ctd","cs","ss","all"], "range": ["#25b26e","#1fb6c3","#7ab43c","#f47d74","#d89e2c","#4f9fdc","#b597da","#e4519f"]}, "legend": null}
      }},
     {"data": {"values": [{}]}, "mark": {"type": "text", "text": "Feature", "fontSize": 8, "color": "#222"}, "encoding": {"x": {"datum": 0.643}, "y": {"datum": 0.432}}},
     {"data": {"values": [{}]}, "mark": {"type": "text", "text": "AUC", "fontSize": 8, "color": "#222"}, "encoding": {"x": {"datum": 0.982}, "y": {"datum": 0.432}}},
     {"data": {"values": [{}]}, "mark": {"type": "rule", "color": "#222", "strokeWidth": 1}, "encoding": {"x": {"datum": 0.424}, "x2": {"datum": 1.05}, "y": {"datum": 0.402}}},
     {"data": {"name": "tab"},
      "transform": [{"filter": "datum.p == 'E'"}, {"window": [{"op": "row_number", "as": "k"}]}, {"calculate": "0.357 - (datum.k - 1) * 0.0518", "as": "ty"}, {"filter": "datum.f != 'all'"}],
      "mark": {"type": "text", "fontSize": 7.5, "align": "center", "baseline": "middle"},
      "encoding": {"x": {"datum": 0.64}, "y": {"field": "ty", "type": "quantitative"}, "text": {"field": "n"}, "color": {"field": "f", "type": "nominal", "legend": null}}},
     {"data": {"name": "tab"},
      "transform": [{"filter": "datum.p == 'E'"}, {"window": [{"op": "row_number", "as": "k"}]}, {"calculate": "0.357 - (datum.k - 1) * 0.0518", "as": "ty"}, {"filter": "datum.f == 'all'"}],
      "mark": {"type": "text", "fontSize": 7.5, "fontWeight": "bold", "align": "center", "baseline": "middle"},
      "encoding": {"x": {"datum": 0.64}, "y": {"field": "ty", "type": "quantitative"}, "text": {"field": "n"}, "color": {"field": "f", "type": "nominal", "legend": null}}},
     {"data": {"name": "tab"},
      "transform": [{"filter": "datum.p == 'E'"}, {"window": [{"op": "row_number", "as": "k"}]}, {"calculate": "0.357 - (datum.k - 1) * 0.0518", "as": "ty"}, {"filter": "datum.f != 'all'"}],
      "mark": {"type": "text", "fontSize": 7.5, "align": "center", "baseline": "middle", "color": "#222"},
      "encoding": {"x": {"datum": 0.982}, "y": {"field": "ty", "type": "quantitative"}, "text": {"field": "a"}}},
     {"data": {"name": "tab"},
      "transform": [{"filter": "datum.p == 'E'"}, {"window": [{"op": "row_number", "as": "k"}]}, {"calculate": "0.357 - (datum.k - 1) * 0.0518", "as": "ty"}, {"filter": "datum.f == 'all'"}],
      "mark": {"type": "text", "fontSize": 7.5, "fontWeight": "bold", "align": "center", "baseline": "middle", "color": "#000"},
      "encoding": {"x": {"datum": 0.982}, "y": {"field": "ty", "type": "quantitative"}, "text": {"field": "a"}}},
     {"data": {"values": [{}]}, "mark": {"type": "text", "text": "ubp8Δ", "align": "left", "fontSize": 10, "color": "#6b4a9f"}, "encoding": {"x": {"datum": -0.035}, "y": {"datum": 1.0}}}
   ]
  }
 ], "spacing": 10}
]
}
